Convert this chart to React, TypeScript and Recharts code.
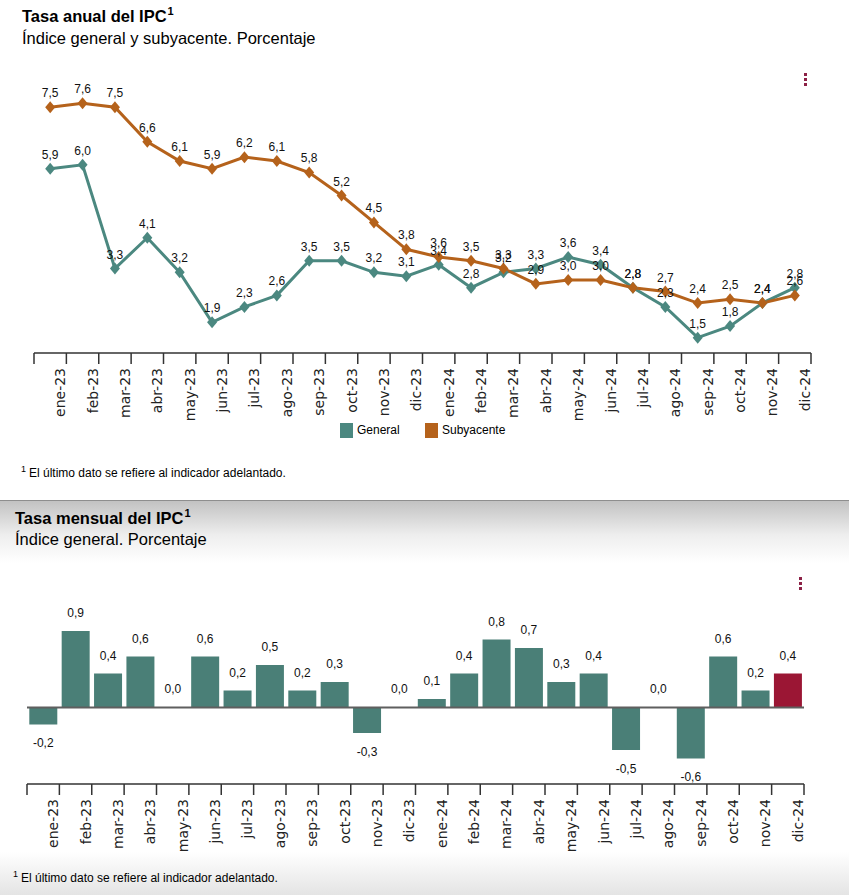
import { LineChart, Line, BarChart, Bar, XAxis, YAxis, LabelList, Cell, ReferenceLine } from 'recharts'

// months shown on both charts
const meses = [
  'ene-23', 'feb-23', 'mar-23', 'abr-23', 'may-23', 'jun-23', 'jul-23', 'ago-23',
  'sep-23', 'oct-23', 'nov-23', 'dic-23', 'ene-24', 'feb-24', 'mar-24', 'abr-24',
  'may-24', 'jun-24', 'jul-24', 'ago-24', 'sep-24', 'oct-24', 'nov-24', 'dic-24',
]

// annual rate (%)
const general = [5.9, 6.0, 3.3, 4.1, 3.2, 1.9, 2.3, 2.6, 3.5, 3.5, 3.2, 3.1, 3.4, 2.8, 3.2, 3.3, 3.6, 3.4, 2.8, 2.3, 1.5, 1.8, 2.4, 2.8]
const subyacente = [7.5, 7.6, 7.5, 6.6, 6.1, 5.9, 6.2, 6.1, 5.8, 5.2, 4.5, 3.8, 3.6, 3.5, 3.3, 2.9, 3.0, 3.0, 2.8, 2.7, 2.4, 2.5, 2.4, 2.6]

// monthly rate (%)
const mensual = [-0.2, 0.9, 0.4, 0.6, 0.0, 0.6, 0.2, 0.5, 0.2, 0.3, -0.3, 0.0, 0.1, 0.4, 0.8, 0.7, 0.3, 0.4, -0.5, 0.0, -0.6, 0.6, 0.2, 0.4]

const TEAL = '#4b8880'
const ORANGE = '#b5621b'
const BAR = '#4a7f77'
const RED = '#9b1634'
const FONT = '"Liberation Sans", Arial, Helvetica, sans-serif'

const annualData = meses.map((mes, i) => ({ mes, General: general[i], Subyacente: subyacente[i] }))
const monthlyData = meses.map((mes, i) => ({ mes, valor: mensual[i] }))

const fmt = (v: any) => Number(v).toFixed(1).replace('.', ',')

// chart boxes
const TOP_W = 849
const TOP_H = 440
const TOP_M = { top: 88, left: 34, right: 38, bottom: 7 }
const BOT_W = 849
const BOT_H = 300
const BOT_M = { top: 62.5, left: 27, right: 45, bottom: 6 }

const bandTop = (TOP_W - TOP_M.left - TOP_M.right) / meses.length
const bandBot = (BOT_W - BOT_M.left - BOT_M.right) / meses.length

function MonthTick(props: any) {
  const { x, y, payload, index, bw } = props
  const left = x - bw / 2
  const tx = x + 15
  const ty = y + 15
  return (
    <g>
      <line x1={left} y1={y} x2={left} y2={y + 11} stroke="#333" strokeWidth={1.5} />
      {index === meses.length - 1 && (
        <line x1={x + bw / 2} y1={y} x2={x + bw / 2} y2={y + 11} stroke="#333" strokeWidth={1.5} />
      )}
      <text
        x={tx}
        y={ty}
        transform={`rotate(-90 ${tx} ${ty})`}
        textAnchor="end"
        fontSize={14}
        fontFamily='"DejaVu Sans", Verdana, sans-serif'
        fill="#222"
      >
        {payload.value}
      </text>
    </g>
  )
}

// value label for the bars: above for >= 0, below for negatives
function BarValue(props: any) {
  const { x, y, width, height, value } = props
  const cx = x + width / 2
  const neg = Number(value) < 0
  const ty = neg ? y + Math.max(height, -height) * 0 + (height < 0 ? 0 : height) + 14 : Math.min(y, y + height) - 14
  return (
    <text
      x={cx}
      y={ty}
      dy={neg ? '0.71em' : 0}
      textAnchor="middle"
      fontSize={12}
      fontFamily={FONT}
      fill="#111"
    >
      {fmt(value)}
    </text>
  )
}

const diamond = (color: string) => (p: any) => {
  const { cx, cy, index } = p
  return (
    <path
      key={`d-${index}`}
      d={`M${cx},${cy - 6}L${cx + 5},${cy}L${cx},${cy + 6}L${cx - 5},${cy}Z`}
      fill={color}
    />
  )
}

function Dots({ left, top }: { left: number; top: number }) {
  return (
    <div style={{ position: 'absolute', left, top }}>
      {[0, 1, 2].map((i) => (
        <div key={i} style={{ position: 'absolute', left: 0, top: i * 5, width: 3, height: 3, background: '#8c2146' }} />
      ))}
    </div>
  )
}

function Sup() {
  return <span style={{ fontSize: 11, position: 'relative', top: -7, marginLeft: 1 }}>1</span>
}

export default function App() {
  return (
    <div style={{ position: 'absolute', left: 0, top: 0, width: 849, height: 895, background: '#fff', overflow: 'hidden', fontFamily: FONT, color: '#000' }}>
      {/* grey band between the two panels */}
      <div style={{ position: 'absolute', left: 0, top: 500, width: 849, height: 1, background: '#8e8e8e' }} />
      <div style={{ position: 'absolute', left: 0, top: 501, width: 849, height: 62, background: 'linear-gradient(#c2c2c2, #eeeeee 55%, #ffffff)' }} />
      <div style={{ position: 'absolute', left: 0, top: 852, width: 849, height: 43, background: 'linear-gradient(#ffffff, #e4e4e4)' }} />

      {/* annual panel */}
      <div style={{ position: 'absolute', left: 22, top: 6, fontSize: 16.5, lineHeight: '20px', fontWeight: 'bold', whiteSpace: 'nowrap' }}>
        Tasa anual del IPC<Sup />
      </div>
      <div style={{ position: 'absolute', left: 22, top: 27.6, fontSize: 16.5, lineHeight: '20px', whiteSpace: 'nowrap' }}>
        Índice general y subyacente. Porcentaje
      </div>
      <Dots left={804} top={73} />

      <div style={{ position: 'absolute', left: 0, top: 0 }}>
        <LineChart width={TOP_W} height={TOP_H} data={annualData} margin={TOP_M}>
          <XAxis
            dataKey="mes"
            scale="band"
            interval={0}
            height={80}
            tickSize={0}
            tickMargin={0}
            tickLine={false}
            axisLine={{ stroke: '#333', strokeWidth: 1.5 }}
            tick={(p: any) => <MonthTick {...p} bw={bandTop} />}
          />
          <YAxis hide domain={[1.1, 8]} allowDataOverflow />
          <Line
            dataKey="General"
            stroke={TEAL}
            strokeWidth={3}
            dot={diamond(TEAL)}
            activeDot={false}
            isAnimationActive={false}
          >
            <LabelList dataKey="General" position="top" offset={10} formatter={fmt} fontSize={12} fill="#111" fontFamily={FONT} />
          </Line>
          <Line
            dataKey="Subyacente"
            stroke={ORANGE}
            strokeWidth={3}
            dot={diamond(ORANGE)}
            activeDot={false}
            isAnimationActive={false}
          >
            <LabelList dataKey="Subyacente" position="top" offset={10} formatter={fmt} fontSize={12} fill="#111" fontFamily={FONT} />
          </Line>
        </LineChart>
      </div>

      {/* legend */}
      <div style={{ position: 'absolute', left: 340, top: 423, width: 13, height: 15, background: TEAL }} />
      <div style={{ position: 'absolute', left: 357, top: 423, fontSize: 12, lineHeight: '15px' }}>General</div>
      <div style={{ position: 'absolute', left: 425, top: 423, width: 13, height: 15, background: ORANGE }} />
      <div style={{ position: 'absolute', left: 442, top: 423, fontSize: 12, lineHeight: '15px' }}>Subyacente</div>

      <div style={{ position: 'absolute', left: 21, top: 466, fontSize: 12, lineHeight: '14px', whiteSpace: 'nowrap' }}>
        <span style={{ fontSize: 9, position: 'relative', top: -5, marginRight: 3 }}>1</span>
        El último dato se refiere al indicador adelantado.
      </div>

      {/* monthly panel */}
      <div style={{ position: 'absolute', left: 15, top: 508.3, fontSize: 16.5, lineHeight: '20px', fontWeight: 'bold', whiteSpace: 'nowrap' }}>
        Tasa mensual del IPC<Sup />
      </div>
      <div style={{ position: 'absolute', left: 15, top: 529.3, fontSize: 16.5, lineHeight: '20px', whiteSpace: 'nowrap' }}>
        Índice general. Porcentaje
      </div>
      <Dots left={799} top={577} />

      <div style={{ position: 'absolute', left: 0, top: 560 }}>
        <BarChart width={BOT_W} height={BOT_H} data={monthlyData} margin={BOT_M} barCategoryGap={2.3}>
          <XAxis
            dataKey="mes"
            interval={0}
            height={70}
            tickSize={0}
            tickMargin={0}
            tickLine={false}
            axisLine={{ stroke: '#333', strokeWidth: 1.5 }}
            tick={(p: any) => <MonthTick {...p} bw={bandBot} />}
          />
          <YAxis hide domain={[-0.9, 1.0]} allowDataOverflow />
          <Bar dataKey="valor" minPointSize={0.01} isAnimationActive={false}>
            {monthlyData.map((d, i) => (
              <Cell key={d.mes} fill={i === monthlyData.length - 1 ? RED : BAR} />
            ))}
            <LabelList dataKey="valor" content={BarValue} />
          </Bar>
          <ReferenceLine y={0} stroke="#5f5f5f" strokeWidth={2} />
        </BarChart>
      </div>

      <div style={{ position: 'absolute', left: 13, top: 871, fontSize: 12, lineHeight: '14px', whiteSpace: 'nowrap' }}>
        <span style={{ fontSize: 9, position: 'relative', top: -5, marginRight: 3 }}>1</span>
        El último dato se refiere al indicador adelantado.
      </div>
    </div>
  )
}
